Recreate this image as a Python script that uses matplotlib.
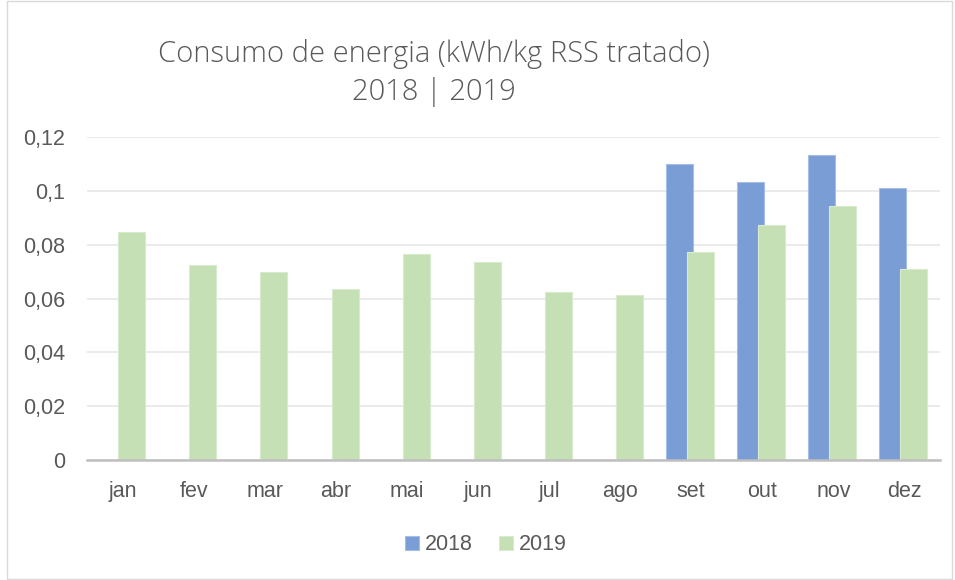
import numpy as np
import matplotlib.pyplot as plt
from matplotlib.patches import Rectangle

months = ['jan', 'fev', 'mar', 'abr', 'mai', 'jun', 'jul', 'ago', 'set', 'out', 'nov', 'dez']
v2018 = [np.nan] * 8 + [0.110, 0.1034, 0.1134, 0.1009]
v2019 = [0.0847, 0.0724, 0.0698, 0.0635, 0.0765, 0.0736, 0.0624, 0.0613,
         0.0773, 0.0873, 0.0942, 0.0710]
yticks = [0, 0.02, 0.04, 0.06, 0.08, 0.1, 0.12]
ylabels = ['0', '0,02', '0,04', '0,06', '0,08', '0,1', '0,12']

W, H = 955, 580
fig = plt.figure(figsize=(W / 100, H / 100), dpi=100)
ax = fig.add_axes([87 / W, (H - 460) / H, (940 - 87) / W, (460 - 137) / H])

x = np.arange(len(months))
ax.bar(x - 0.17, np.array(v2018, dtype=float), width=0.38, color='#7A9DD6',
       edgecolor='#A4BEE6', linewidth=0.8, label='2018', zorder=2)
ax.bar(x + 0.13, v2019, width=0.38, color='#C5E0B4',
       edgecolor='#D8EBCC', linewidth=0.8, label='2019', zorder=3)

ax.set_xlim(-0.5, 11.5)
ax.set_ylim(0, 0.12)
ax.set_yticks(yticks)
ax.set_yticklabels(ylabels)
ax.set_xticks(x)
ax.set_xticklabels(months)
ax.tick_params(axis='both', length=0, labelsize=15.5, labelcolor='#595959')
ax.tick_params(axis='x', pad=15)
ax.tick_params(axis='y', pad=16)
for lab in ax.get_xticklabels() + ax.get_yticklabels():
    lab.set_family('Liberation Sans')
ax.grid(axis='y', color='#E8E8E8', linewidth=1.2, zorder=0)
ax.set_axisbelow(True)
for s in ['top', 'right', 'left']:
    ax.spines[s].set_visible(False)
ax.spines['bottom'].set_color('#BFBFBF')
ax.spines['bottom'].set_linewidth(1.8)
ax.spines['bottom'].set_zorder(4)

fig.text(434 / W, 1 - 54 / H, 'Consumo de energia (kWh/kg RSS tratado)', ha='center', va='center',
         fontsize=21, color='#595959', family='Open Sans', fontweight='light')
fig.text(434 / W, 1 - 92 / H, '2018 | 2019', ha='center', va='center',
         fontsize=21, color='#595959', family='Open Sans', fontweight='light')

leg = fig.legend(loc='center', bbox_to_anchor=(486 / W, 1 - 545 / H), ncol=2, frameon=False,
                 prop={'family': 'Liberation Sans', 'size': 15.5}, handlelength=0.65,
                 handleheight=0.65, handletextpad=0.3, columnspacing=1.2)
for t in leg.get_texts():
    t.set_color('#595959')

fig.patches.append(Rectangle((7 / W, 1 / H), 945 / W, 578 / H, transform=fig.transFigure,
                             fill=False, edgecolor='#D9D9D9', linewidth=1))

plt.savefig('out.png', dpi=100)
